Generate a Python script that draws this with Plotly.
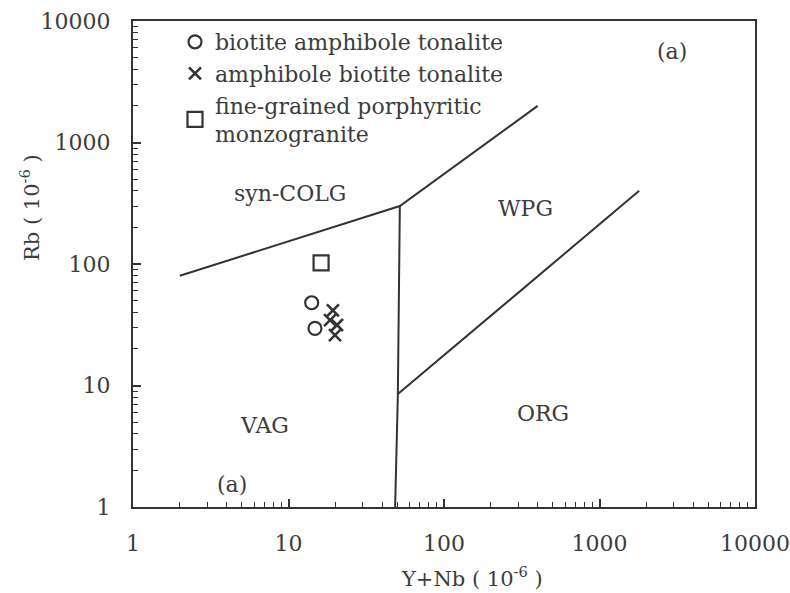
import numpy as np
import plotly.graph_objects as go

# Sample data: Y+Nb vs Rb (ppm)
bat_ynb = [14.1, 14.8]
bat_rb = [48, 29.5]
abt_ynb = [19.3, 18.5, 20.5, 19.9]
abt_rb = [41.5, 34.5, 31.5, 26.0]
fpm_ynb = [16.2]
fpm_rb = [102]

# Discrimination boundaries (after Pearce et al., 1984)
colg_x = [2, 52, 400]
colg_y = [80, 300, 2000]
vag_x = [52, 50.5, 48.5]
vag_y = [300, 8.5, 1]
org_x = [50.5, 1800]
org_y = [8.5, 400]

# Field labels (x, y, text)
field_labels = [
    (10.2, 384, "syn-COLG"),
    (332, 284, "WPG"),
    (7.06, 4.7, "VAG"),
    (433, 5.9, "ORG"),
    (4.3, 1.52, "(a)"),
    (2925, 5560, "(a)"),
]

ink = "#333333"
txt = "#3c3c3c"
font_family = "DejaVu Serif"

fig = go.Figure()

for bx, by in [(colg_x, colg_y), (vag_x, vag_y), (org_x, org_y)]:
    fig.add_trace(go.Scatter(x=bx, y=by, mode="lines",
                             line=dict(color=ink, width=2),
                             showlegend=False, hoverinfo="skip"))

fig.add_trace(go.Scatter(
    x=bat_ynb, y=bat_rb, mode="markers", name="biotite amphibole tonalite",
    marker=dict(symbol="circle-open", size=13, color=ink, line=dict(width=2.2))))
fig.add_trace(go.Scatter(
    x=abt_ynb, y=abt_rb, mode="markers", name="amphibole biotite tonalite",
    marker=dict(symbol="x-thin-open", size=12, color=ink, line=dict(width=2.6))))
fig.add_trace(go.Scatter(
    x=fpm_ynb, y=fpm_rb, mode="markers",
    name="fine-grained porphyritic<br>monzogranite",
    marker=dict(symbol="square-open", size=15, color=ink, line=dict(width=2.2))))

for lx, ly, lt in field_labels:
    fig.add_annotation(x=np.log10(lx), y=np.log10(ly), text=lt, showarrow=False,
                       font=dict(family=font_family, size=22, color=txt))

axis_common = dict(
    type="log", range=[0, 4], dtick=1, tickformat="d",
    showline=True, linecolor=ink, linewidth=2, mirror=True,
    ticks="inside", ticklen=8, tickcolor=ink, tickwidth=1.5,
    minor=dict(dtick="D1", ticks="inside", ticklen=5, tickcolor=ink, tickwidth=1),
    tickfont=dict(family=font_family, size=22, color=txt),
    ticklabelstandoff=16, automargin=False,
)

fig.update_xaxes(**axis_common)
fig.update_yaxes(**axis_common)

# Axis titles
fig.add_annotation(xref="paper", yref="paper", x=(472 - 133) / 622, y=-(577 - 507) / 486,
                   xanchor="center", yanchor="middle",
                   text="Y+Nb ( 10<sup>-6</sup> )", showarrow=False,
                   font=dict(family=font_family, size=21, color=txt))
fig.add_annotation(xref="paper", yref="paper", x=-(133 - 30) / 622, y=(507 - 208) / 486,
                   xanchor="center", yanchor="middle",
                   text="Rb ( 10<sup>-6</sup> )", showarrow=False, textangle=-90,
                   font=dict(family=font_family, size=21, color=txt))

fig.update_layout(
    width=790, height=593,
    margin=dict(l=133, r=35, t=21, b=86),
    paper_bgcolor="white", plot_bgcolor="white",
    showlegend=True,
    legend=dict(x=(175 - 133) / 622, y=1.0, xanchor="left", yanchor="top",
                bgcolor="rgba(0,0,0,0)", borderwidth=0,
                font=dict(family=font_family, size=22, color=txt),
                itemsizing="trace", tracegroupgap=0),
)

fig.write_html("out.html")
